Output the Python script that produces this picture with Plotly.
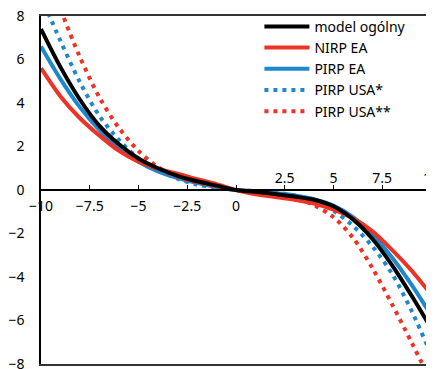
import plotly.graph_objects as go

x_vals = [-10, -9, -8, -7, -6, -5, -4, -3, -2, -1, 0, 1, 2, 3, 4, 5, 6, 7, 8, 9, 10]

model_ogolny = [7.4, 5.65, 4.15, 2.95, 2.1, 1.45, 1.0, 0.65, 0.4, 0.2, 0.0, -0.08, -0.18, -0.3, -0.45, -0.75, -1.35, -2.25, -3.45, -4.85, -6.35]
nirp_ea = [5.6, 4.3, 3.3, 2.5, 1.8, 1.3, 0.98, 0.75, 0.5, 0.27, 0.0, -0.2, -0.32, -0.45, -0.62, -0.9, -1.3, -1.9, -2.75, -3.7, -4.8]
pirp_ea = [6.6, 5.1, 3.8, 2.75, 1.9, 1.3, 0.85, 0.55, 0.33, 0.14, 0.0, -0.06, -0.14, -0.25, -0.42, -0.72, -1.25, -2.05, -3.1, -4.35, -5.75]
pirp_usa1 = [8.9, 6.85, 4.95, 3.4, 2.3, 1.45, 0.9, 0.52, 0.25, 0.1, 0.0, -0.05, -0.12, -0.25, -0.5, -0.95, -1.65, -2.6, -3.85, -5.55, -7.55]
pirp_usa2 = [10.6, 8.3, 6.1, 4.25, 2.85, 1.8, 1.05, 0.6, 0.35, 0.15, 0.0, -0.1, -0.2, -0.35, -0.7, -1.25, -2.2, -3.6, -5.25, -7.0, -8.8]

neg_ticks = [-10, -7.5, -5, -2.5, 0, 2.5, 5, 7.5, 10]
neg_text = ["\u221210", "\u22127.5", "\u22125", "\u22122.5", "0", "", "", "", ""]
pos_ticks = [2.5, 5, 7.5, 10]
pos_text = ["2.5", "5", "7.5", "10"]
y_ticks = [-8, -6, -4, -2, 0, 2, 4, 6, 8]
y_text = ["\u22128", "\u22126", "\u22124", "\u22122", "0", "2", "4", "6", "8"]

RED = "#ee3224"
BLUE = "#1e88cc"
FONT = "Noto Sans"
SM = 0.9

fig = go.Figure()
fig.add_trace(go.Scatter(x=x_vals, y=model_ogolny, name="model ogólny", mode="lines", xaxis="x3",
                         line=dict(color="black", width=4, shape="spline", smoothing=SM), legendrank=1))
fig.add_trace(go.Scatter(x=x_vals, y=pirp_ea, name="PIRP EA", mode="lines",
                         line=dict(color=BLUE, width=4, shape="spline", smoothing=SM), legendrank=3))
fig.add_trace(go.Scatter(x=x_vals, y=pirp_usa1, name="PIRP USA*", mode="lines",
                         line=dict(color=BLUE, width=4, shape="spline", smoothing=SM, dash="4px,5px"), legendrank=4))
fig.add_trace(go.Scatter(x=x_vals, y=pirp_usa2, name="PIRP USA**", mode="lines",
                         line=dict(color=RED, width=4, shape="spline", smoothing=SM, dash="4px,5px"), legendrank=5))
fig.add_trace(go.Scatter(x=x_vals, y=nirp_ea, name="NIRP EA", mode="lines", xaxis="x2",
                         line=dict(color=RED, width=4, shape="spline", smoothing=SM), legendrank=2))

# page body has an 8px default margin; figure is sized to fill the remaining window
fig.update_layout(
    width=426, height=361,
    margin=dict(l=33, r=3, t=8, b=5),
    paper_bgcolor="white", plot_bgcolor="white",
    font=dict(family=FONT, size=14, color="black"),
    showlegend=True,
    legend=dict(x=0.56, y=1.015, xanchor="left", yanchor="top", bgcolor="rgba(0,0,0,0)",
                font=dict(size=14), itemwidth=45, tracegroupgap=0),
    xaxis=dict(range=[-10, 10], anchor="free", position=0.5, showgrid=False, zeroline=False,
               showline=True, linecolor="black", linewidth=1.5, automargin=False,
               tickmode="array", tickvals=neg_ticks, ticktext=neg_text,
               ticks="inside", ticklen=4, tickcolor="black", tickwidth=1.2,
               ticklabelstandoff=3, ticklabeloverflow="allow"),
    xaxis2=dict(range=[-10, 10], overlaying="x", side="top", anchor="free", position=0.5,
                showgrid=False, zeroline=False, showline=False, automargin=False,
                tickmode="array", tickvals=pos_ticks, ticktext=pos_text, ticks="",
                ticklabelstandoff=4, ticklabeloverflow="allow"),
    xaxis3=dict(range=[-10, 10], overlaying="x", side="bottom", anchor="y",
                showgrid=False, zeroline=False, showline=True, mirror=True,
                linecolor="#333333", linewidth=1.5, automargin=False,
                showticklabels=False, ticks=""),
    yaxis=dict(range=[-8, 8], showgrid=False, zeroline=False, showline=True, automargin=False,
               linecolor="black", linewidth=1.5, tickmode="array", tickvals=y_ticks,
               ticktext=y_text, ticks="", ticklabelstandoff=12, ticklabeloverflow="allow"),
)

fig.write_html("out.html")
